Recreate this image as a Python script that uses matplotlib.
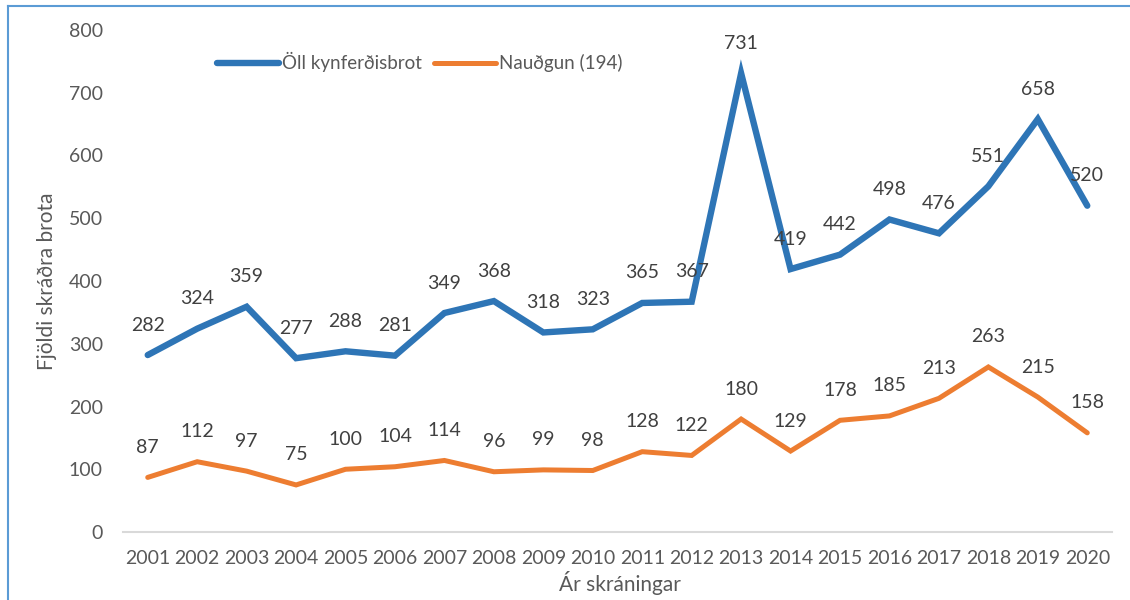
import matplotlib.pyplot as plt
from matplotlib.lines import Line2D

years = list(range(2001, 2021))
oll = [282, 324, 359, 277, 288, 281, 349, 368, 318, 323, 365, 367, 731, 419, 442, 498, 476, 551, 658, 520]
naudgun = [87, 112, 97, 75, 100, 104, 114, 96, 99, 98, 128, 122, 180, 129, 178, 185, 213, 263, 215, 158]

BLUE = '#2E75B6'
ORANGE = '#ED7D31'
TXT = '#595959'

plt.rcParams['font.family'] = ['Lato', 'DejaVu Sans']

fig = plt.figure(figsize=(11.3, 6), dpi=100)
ax = fig.add_axes([123 / 1130, 1 - 532 / 600, (1112 - 123) / 1130, (532 - 30) / 600])

x = list(range(len(years)))
ax.plot(x, oll, color=BLUE, lw=4.6, solid_capstyle='round', solid_joinstyle='miter')
ax.plot(x, naudgun, color=ORANGE, lw=3.6, solid_capstyle='round', solid_joinstyle='miter')

for xi, v in zip(x, oll):
    ax.annotate(str(v), (xi, v), xytext=(0, 30), textcoords='offset pixels',
                ha='center', va='center', fontsize=14, color='#404040')
for xi, v in zip(x, naudgun):
    ax.annotate(str(v), (xi, v), xytext=(0, 30), textcoords='offset pixels',
                ha='center', va='center', fontsize=14, color='#404040')

ax.set_xlim(-0.5, len(years) - 0.5)
ax.set_ylim(0, 800)
ax.set_yticks(range(0, 801, 100))
ax.set_xticks(x)
ax.set_xticklabels([str(y) for y in years])
ax.tick_params(axis='both', length=0, labelsize=14, labelcolor=TXT)
ax.tick_params(axis='y', pad=14.5)
ax.tick_params(axis='x', pad=13)
for s in ['top', 'right', 'left']:
    ax.spines[s].set_visible(False)
ax.spines['bottom'].set_color('#D9D9D9')
ax.spines['bottom'].set_linewidth(1.5)

fig.text(47 / 1130, 1 - 281 / 600, 'Fjöldi skráðra brota', rotation=90,
         ha='center', va='center', fontsize=15, color=TXT)
fig.text(620 / 1130, 1 - 583 / 600, 'Ár skráningar', ha='center', va='center',
         fontsize=15, color=TXT)

handles = [Line2D([], [], color=BLUE, lw=4.6, solid_capstyle='round'),
           Line2D([], [], color=ORANGE, lw=3.6, solid_capstyle='round')]
ax.legend(handles, ['Öll kynferðisbrot', 'Nauðgun (194)'], loc='center left',
          bbox_to_anchor=(200 / 1130, 1 - 62 / 600), bbox_transform=fig.transFigure,
          ncol=2, frameon=False, fontsize=13.5, labelcolor=TXT, handlelength=3.3,
          handletextpad=0.2, columnspacing=0.6)

# outer border (cropped at right and bottom)
bx, by = 8 / 1130, 1 - 6 / 600
fig.add_artist(Line2D([bx, bx], [0, by], transform=fig.transFigure, color='#5B9BD5', lw=1.5))
fig.add_artist(Line2D([bx, 1], [by, by], transform=fig.transFigure, color='#5B9BD5', lw=1.5))

fig.savefig('out.png', dpi=100)
